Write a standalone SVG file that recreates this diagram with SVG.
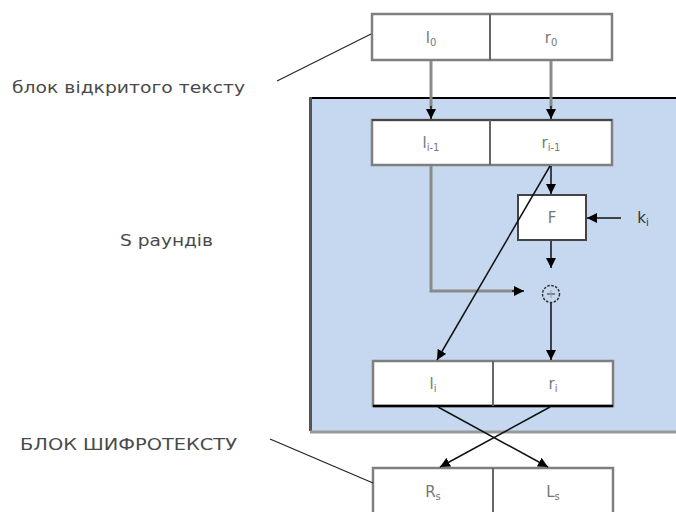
<svg xmlns="http://www.w3.org/2000/svg" width="676" height="512" viewBox="0 0 676 512">
<style>
.box{fill:#ffffff;stroke:#7f7f7f;stroke-width:2.5}
.div{stroke:#666;stroke-width:2}
.lbl{font-family:"DejaVu Sans","Liberation Sans",sans-serif;font-size:15px;fill:#4a4a4a}
.cell{font-family:"DejaVu Sans","Liberation Sans",sans-serif;font-size:15px;fill:#777;text-anchor:middle}
.sub{font-size:10px}
.g{stroke:#8a8a8a;stroke-width:3;fill:none}
.k{stroke:#111;stroke-width:1.5;fill:none}
</style>
<defs>
<marker id="ah" viewBox="0 0 10 10" refX="10" refY="5" markerWidth="10" markerHeight="10" markerUnits="userSpaceOnUse" orient="auto">
<path d="M0,0 L10,5 L0,10 z" fill="#000"/>
</marker>
</defs>
<rect x="0" y="0" width="676" height="512" fill="#fff"/>
<g id="round-area">
<rect x="311" y="98" width="370" height="333" fill="#c6d8ef"/>
<line x1="311" y1="98" x2="676" y2="98" stroke="#000" stroke-width="2"/>
<line x1="310.5" y1="97" x2="310.5" y2="431" stroke="#555" stroke-width="3"/>
<line x1="310" y1="432" x2="676" y2="432" stroke="#999" stroke-width="3"/>
</g>
<g id="plaintext-label"><text class="lbl" x="12" y="93" textLength="233" lengthAdjust="spacingAndGlyphs">блок відкритого тексту</text></g>
<g id="rounds-label"><text class="lbl" x="120" y="246" textLength="93" lengthAdjust="spacingAndGlyphs">S раундів</text></g>
<g id="ciphertext-label"><text class="lbl" x="20" y="450" textLength="217" lengthAdjust="spacingAndGlyphs">БЛОК ШИФРОТЕКСТУ</text></g>
<g id="block-0">
<rect class="box" x="372" y="14" width="240" height="46"/>
<line class="div" x1="490" y1="14" x2="490" y2="60"/>
<text class="cell" x="431" y="43">l<tspan class="sub" dy="3">0</tspan></text>
<text class="cell" x="551" y="43">r<tspan class="sub" dy="3">0</tspan></text>
</g>
<g id="block-i-1">
<rect class="box" x="372" y="120" width="240" height="45"/>
<line x1="372" y1="120" x2="612" y2="120" stroke="#444" stroke-width="2"/>
<line class="div" x1="490" y1="120" x2="490" y2="165"/>
<text class="cell" x="431" y="148">l<tspan class="sub" dy="3">i-1</tspan></text>
<text class="cell" x="551" y="148">r<tspan class="sub" dy="3">i-1</tspan></text>
</g>
<g id="F">
<rect x="518" y="195" width="68" height="45" fill="#fff" stroke="#444" stroke-width="2"/>
<text class="cell" x="552" y="223" fill="#555">F</text>
</g>
<g id="key"><text class="cell" x="643" y="223" style="fill:#333">k<tspan class="sub" dy="3">i</tspan></text></g>
<g id="xor">
<circle cx="551" cy="294" r="8.5" fill="none" stroke="#333" stroke-width="1.5" stroke-dasharray="2.5 1.5"/>
<line x1="547" y1="294" x2="555" y2="294" stroke="#666" stroke-width="1.5"/>
<line x1="551" y1="290" x2="551" y2="298" stroke="#999" stroke-width="1"/>
</g>
<g id="block-i">
<rect class="box" x="373" y="361" width="240" height="45"/>
<line x1="373" y1="406" x2="613" y2="406" stroke="#000" stroke-width="2.5"/>
<line class="div" x1="493" y1="361" x2="493" y2="406"/>
<text class="cell" x="433" y="389">l<tspan class="sub" dy="3">i</tspan></text>
<text class="cell" x="553" y="389">r<tspan class="sub" dy="3">i</tspan></text>
</g>
<g id="block-out">
<rect class="box" x="373" y="468" width="240" height="50"/>
<line class="div" x1="493" y1="468" x2="493" y2="512"/>
<text class="cell" x="433" y="497">R<tspan class="sub" dy="3">s</tspan></text>
<text class="cell" x="553" y="497">L<tspan class="sub" dy="3">s</tspan></text>
</g>
<g id="connectors">
<line x1="277" y1="81" x2="371" y2="34" stroke="#222" stroke-width="1.2"/>
<line x1="270" y1="439" x2="373" y2="483" stroke="#222" stroke-width="1.2"/>
<line class="g" x1="431" y1="61" x2="431" y2="108"/>
<line class="k" x1="431" y1="106" x2="431" y2="119" marker-end="url(#ah)"/>
<line class="g" x1="551" y1="61" x2="551" y2="108"/>
<line class="k" x1="551" y1="106" x2="551" y2="119" marker-end="url(#ah)"/>
<polyline class="g" points="431,166 431,291 514,291"/>
<line class="k" x1="512" y1="291" x2="524" y2="291" stroke-width="2" marker-end="url(#ah)"/>
<line class="k" x1="551" y1="166" x2="551" y2="194" marker-end="url(#ah)"/>
<line class="k" x1="550" y1="166" x2="437" y2="360" marker-end="url(#ah)"/>
<line class="k" x1="621" y1="218" x2="587" y2="218" marker-end="url(#ah)"/>
<line class="k" x1="551" y1="241" x2="551" y2="268" marker-end="url(#ah)"/>
<line class="k" x1="551" y1="303" x2="551" y2="360" marker-end="url(#ah)"/>
<line class="k" x1="438" y1="407" x2="548" y2="467" marker-end="url(#ah)"/>
<line class="k" x1="550" y1="407" x2="440" y2="467" marker-end="url(#ah)"/>
</g>
</svg>
